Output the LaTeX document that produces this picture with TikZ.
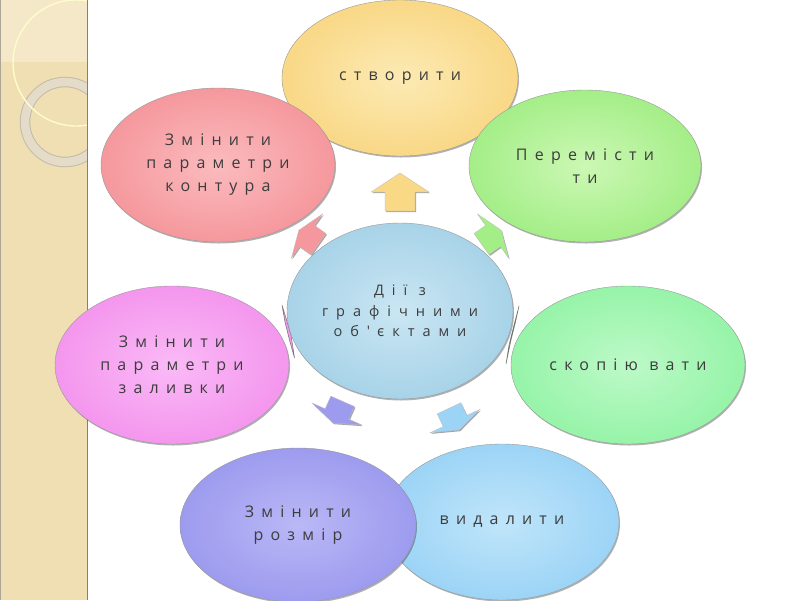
\documentclass[tikz,border=0pt]{standalone}
\usepackage{fontspec}
\setmainfont{Open Sans}[LetterSpace=45]
\newfontfamily\ctrfont{Open Sans}[LetterSpace=55]
\usetikzlibrary{shapes.geometric,shadows}
\definecolor{txt}{HTML}{3C3C3C}
\definecolor{strip}{HTML}{F0DFB2}
\definecolor{striptop}{HTML}{F4E8C8}
\definecolor{stripedge}{HTML}{8A7F6C}
\definecolor{ringc}{HTML}{E4DCC8}
\definecolor{yelO}{HTML}{F9D886}\definecolor{yelI}{HTML}{FCEAB4}
\definecolor{pinkO}{HTML}{F5989D}\definecolor{pinkI}{HTML}{FBBBBE}
\definecolor{grnO}{HTML}{A4EE88}\definecolor{grnI}{HTML}{CCF8B4}
\definecolor{bluO}{HTML}{A8D3E8}\definecolor{bluI}{HTML}{CAE6F3}
\definecolor{magO}{HTML}{F496EE}\definecolor{magI}{HTML}{FABAF6}
\definecolor{mntO}{HTML}{96F4A8}\definecolor{mntI}{HTML}{BDF9C8}
\definecolor{purO}{HTML}{9D9BEE}\definecolor{purI}{HTML}{BAB8F6}
\definecolor{lbO}{HTML}{9CD4F6}\definecolor{lbI}{HTML}{C0E5FA}
\begin{document}
\begin{tikzpicture}[x=1pt,y=-1pt,
  bub/.style={ellipse, inner sep=0pt, align=center, text=txt,
    font=\fontsize{16}{23}\selectfont, draw=black!40, line width=0.4pt,
    drop shadow={shadow xshift=1pt,shadow yshift=-1.5pt,opacity=0.3,fill=black}},
  barrow/.style={draw=black!25, line width=0.3pt,
    drop shadow={shadow xshift=1pt,shadow yshift=-1.2pt,opacity=0.35,fill=black}},
  sliver/.style={draw=black!55, line width=0.5pt}]
\useasboundingbox (0,0) rectangle (800,600);
\fill[white] (0,0) rectangle (800,600);
% left decorative strip
\fill[strip] (0,0) rectangle (87,600);
\fill[striptop] (0,0) rectangle (87,62);
\begin{scope}
  \clip (0,0) rectangle (87,600);
  \draw[ringc!85!black, line width=10.5pt] (65,122) circle (40);
  \draw[ringc, line width=8.5pt] (65,122) circle (40);
  \draw[white!80!yellow, line width=1.4pt] (76,63) circle (63);
\end{scope}
\draw[stripedge, line width=1.5pt] (87.5,0) -- (87.5,600);
\draw[stripedge!70, line width=1pt] (0.5,0) -- (0.5,600);
% block arrows
\fill[yelO, barrow] (400,173) -- (429,192) -- (415,192) -- (415,211) -- (385,211) -- (385,192) -- (371,192) -- cycle;
\fill[pinkO, barrow] (298.8,230.2) -- (322.6,213.9) -- (314.5,225.4) -- (326,233.5) -- (311,254.7) -- (299.5,246.6) -- (291.4,258.1) -- cycle;
\fill[grnO, barrow] (501.2,230.2) -- (477.4,213.9) -- (485.5,225.4) -- (474,233.5) -- (489,254.7) -- (500.5,246.6) -- (508.6,258.1) -- cycle;
\fill[purO, barrow] (333,423) -- (312,403) -- (325.2,408.8) -- (330.8,396.1) -- (354.4,406.5) -- (348.8,419.2) -- (362,425) -- cycle;
\fill[lbO, barrow] (459.3,430) -- (430.1,432.7) -- (443.2,426.6) -- (437.2,413.9) -- (460.8,402.7) -- (466.8,415.4) -- (479.9,409.3) -- cycle;
\filldraw[magO, sliver] (282,305) -- (286,318) -- (291,335) -- (294.5,358) -- (290,342) -- (285,322) -- cycle;
\filldraw[mntO, sliver] (519,306) -- (514,325) -- (509,345) -- (506,364) -- (511,340) -- (515.5,322) -- cycle;
% ellipses
\node[bub, minimum width=236pt, minimum height=156pt, inner color=yelI, outer color=yelO] (create) at (400,78) {створити};
\node[bub, minimum width=232pt, minimum height=152pt, inner color=grnI, outer color=grnO] (move) at (585,166) {Перемісти\\ти};
\node[bub, minimum width=234pt, minimum height=158pt, inner color=mntI, outer color=mntO] (copy) at (628,365) {скопію вати};
\node[bub, minimum width=234pt, minimum height=156pt, inner color=lbI, outer color=lbO] (del) at (502,522) {видалити};
\node[bub, minimum width=236pt, minimum height=154pt, inner color=purI, outer color=purO] (size) at (298,525) {Змінити\\розмір};
\node[bub, minimum width=234pt, minimum height=158pt, inner color=magI, outer color=magO] (fill) at (172,365) {Змінити\\параметри\\заливки};
\node[bub, minimum width=234pt, minimum height=154pt, inner color=pinkI, outer color=pinkO] (contour) at (218,165) {Змінити\\параметри\\контура};
\node[bub, minimum width=226pt, minimum height=176pt, inner color=bluI, outer color=bluO, font=\ctrfont\fontsize{14.5}{20.5}\selectfont] (center) at (400,311) {Дії з\\графічними\\об'єктами};
\end{tikzpicture}
\end{document}
